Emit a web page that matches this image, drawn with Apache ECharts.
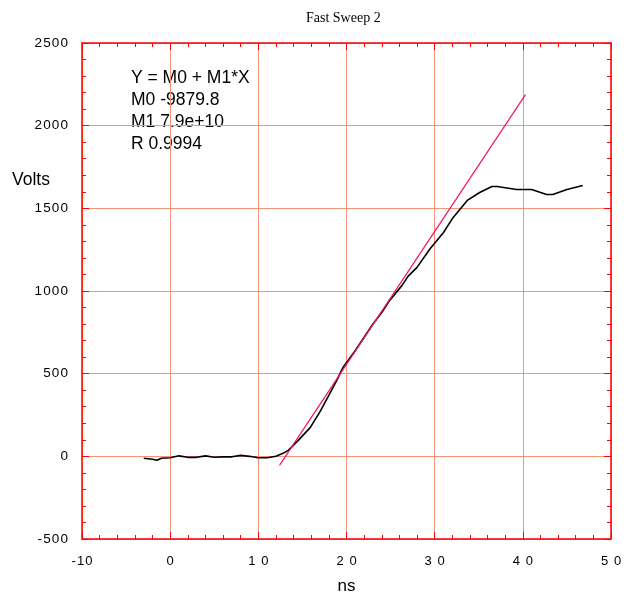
<!DOCTYPE html>
<html>
<head>
<meta charset="utf-8">
<script src="https://cdn.jsdelivr.net/npm/echarts@6/dist/echarts.min.js"></script>
<style>
  html, body { margin: 0; padding: 0; background: #fff; }
  #chart { width: 640px; height: 598px; }
</style>
</head>
<body>
<div id="chart"></div>
<script>
// Measured sweep: time (ns) and voltage (V)
const sweepTime = [-3.0, -2.0, -1.5, -1.0, 0, 1, 2, 3, 4, 5, 6, 7, 8, 9, 10, 11, 12, 12.8, 13.4, 13.6,
  14.5, 15.9, 17.0, 18.1, 18.9, 19.6, 21.0, 22.0, 23.0, 24.0, 24.9, 26.3, 27.0, 28.0, 29.5, 31.0,
  32.1, 33.7, 35.1, 36.5, 37.1, 38.0, 39.3, 41.0, 42.7, 43.4, 45.0, 46.8];
const sweepVolts = [-12, -18, -24, -12, -9, 3, -6, -6, 3, -6, -3, -3, 6, 0, -9, -9, 0, 18, 36, 48,
  95, 175, 270, 380, 459, 538, 640, 720, 800, 870, 943, 1034, 1090, 1143, 1257, 1354,
  1445, 1548, 1596, 1632, 1632, 1625, 1614, 1614, 1584, 1584, 1614, 1638];

// Linear fit segment end points (ns, V)
const fitTime = [12.4, 40.3];
const fitVolts = [-55, 2188];

// Fit summary lines
const fitText = ['Y = M0 + M1*X', 'M0 -9879.8', 'M1 7.9e+10', 'R 0.9994'];

// Axis ticks
const xTickValues = [-10, 0, 10, 20, 30, 40, 50];
const xTickLabels = ['-10', '0', '1 0', '2 0', '3 0', '4 0', '5 0'];
const yTickValues = [-500, 0, 500, 1000, 1500, 2000, 2500];
const yTickLabels = ['-500', '0', '500', '1000', '1500', '2000', '2500'];

const AXIS_RED = '#ff0000';
const GRID_SALMON = '#f59379';
const SANS = 'Liberation Sans, Arial, sans-serif';
const spaced = s => s.split('').join('\u200A');

const chart = echarts.init(document.getElementById('chart'), null, { renderer: 'canvas' });

function axisCommon(min, max, interval) {
  return {
    type: 'value', min, max, interval,
    axisLine: { show: true, onZero: false, lineStyle: { color: AXIS_RED, width: 1.5 } },
    axisTick: { show: true, inside: true, length: 7, lineStyle: { color: AXIS_RED, width: 1 } },
    minorTick: { show: true, splitNumber: 5, length: 4, lineStyle: { color: AXIS_RED, width: 1 } },
    splitLine: { show: false },
    minorSplitLine: { show: false }
  };
}

const xMain = Object.assign(axisCommon(-10, 50, 10), {
  position: 'bottom',
  splitLine: { show: true, lineStyle: { color: GRID_SALMON, width: 1 } },
  axisLabel: {
    margin: 16, color: '#000', fontSize: 13, fontFamily: SANS,
    formatter: v => spaced(xTickLabels[xTickValues.indexOf(v)] ?? String(v))
  },
  name: 'ns', nameLocation: 'middle', nameGap: 39,
  nameTextStyle: { color: '#000', fontSize: 17, fontFamily: SANS }
});
const xTop = Object.assign(axisCommon(-10, 50, 10), { position: 'top', axisLabel: { show: false } });

const yMain = Object.assign(axisCommon(-500, 2500, 500), {
  position: 'left',
  splitLine: { show: true, lineStyle: { color: GRID_SALMON, width: 1 } },
  axisLabel: {
    margin: 14, color: '#000', fontSize: 13.5, fontFamily: SANS,
    formatter: v => spaced(yTickLabels[yTickValues.indexOf(v)] ?? String(v))
  }
});
const yRight = Object.assign(axisCommon(-500, 2500, 500), { position: 'right', axisLabel: { show: false } });

chart.setOption({
  animation: false,
  backgroundColor: '#fff',
  title: {
    text: 'Fast Sweep 2', left: 301, top: 6,
    textStyle: { fontFamily: 'Liberation Serif, Times New Roman, serif', fontWeight: 'normal', fontSize: 14, color: '#000' }
  },
  grid: { left: 82, right: 29, top: 43, bottom: 59, containLabel: false, outerBoundsMode: 'none' },
  xAxis: [xMain, xTop],
  yAxis: [yMain, yRight],
  graphic: [
    {
      type: 'text', left: 131, top: 67,
      style: { text: fitText.join('\n'), fill: '#000', fontSize: 17.5, lineHeight: 22, fontFamily: SANS }
    },
    {
      type: 'text', left: 12, top: 171,
      style: { text: 'Volts', fill: '#000', fontSize: 17.5, fontFamily: SANS }
    }
  ],
  series: [
    {
      type: 'line', xAxisIndex: 0, yAxisIndex: 0,
      data: sweepTime.map((t, i) => [t, sweepVolts[i]]),
      showSymbol: false, smooth: false,
      lineStyle: { color: '#000', width: 1.6 }, z: 3
    },
    {
      type: 'line', xAxisIndex: 0, yAxisIndex: 0,
      data: fitTime.map((t, i) => [t, fitVolts[i]]),
      showSymbol: false,
      lineStyle: { color: '#f5106a', width: 1.2 }, z: 4
    }
  ]
});
</script>
</body>
</html>
